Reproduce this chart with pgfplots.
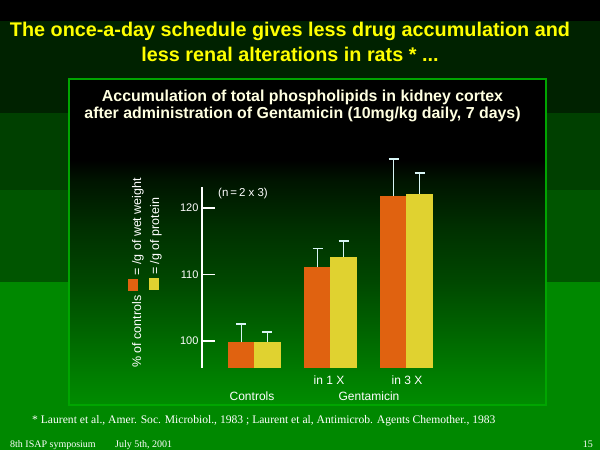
\documentclass[border=0pt]{standalone}
\usepackage{pgfplots}
\pgfplotsset{compat=1.18}
\usepackage{fontspec}
\setmainfont{Liberation Sans}
\newfontfamily\serif{Liberation Serif}

\definecolor{band1}{RGB}{0,34,0}
\definecolor{band2}{RGB}{0,64,0}
\definecolor{band3}{RGB}{0,85,0}
\definecolor{band4}{RGB}{0,136,0}
\definecolor{panelborder}{RGB}{0,165,0}
\definecolor{orangebar}{RGB}{224,98,16}
\definecolor{yellowbar}{RGB}{224,210,48}
\definecolor{errcol}{RGB}{215,245,245}
\definecolor{slideyellow}{RGB}{255,255,0}
\definecolor{titlewhite}{RGB}{255,255,225}

% panel background: green at the bottom fading to black near the top
\pgfdeclareverticalshading{panel}{100bp}{%
  rgb(0bp)=(0,0.55,0); rgb(25bp)=(0,0.55,0); rgb(30.4bp)=(0,0.48,0);
  rgb(36.5bp)=(0,0.39,0); rgb(44bp)=(0,0.28,0); rgb(52bp)=(0,0.19,0);
  rgb(59.5bp)=(0,0.08,0); rgb(62.5bp)=(0,0,0); rgb(100bp)=(0,0,0)}

\begin{document}
\begin{tikzpicture}
\path[use as bounding box] (0,0) rectangle (600pt,450pt);
\fill[black] (0,0) rectangle (600pt,450pt);
\fill[band1] (0,337pt) rectangle (600pt,429pt);
\fill[band2] (0,260pt) rectangle (600pt,337pt);
\fill[band3] (0,168pt) rectangle (600pt,260pt);
\fill[band4] (0,0) rectangle (600pt,168pt);
\shade[shading=panel] (69pt,45pt) rectangle (546pt,371pt);
\draw[panelborder, line width=2.2pt] (69pt,45pt) rectangle (546pt,371pt);

% slide title
\node[anchor=base, text=slideyellow, font=\fontsize{19.8}{24}\selectfont\bfseries, inner sep=0pt]
  at (290pt,413pt) {The once-a-day schedule gives less drug accumulation and};
\node[anchor=base, text=slideyellow, font=\fontsize{19.8}{24}\selectfont\bfseries, inner sep=0pt]
  at (290pt,388pt) {less renal alterations in rats * ...};

% chart title
\node[anchor=base, text=titlewhite, font=\fontsize{15.9}{18}\selectfont\bfseries, inner sep=0pt]
  at (302.5pt,348.5pt) {Accumulation of total phospholipids in kidney cortex};
\node[anchor=base, text=titlewhite, font=\fontsize{15.9}{18}\selectfont\bfseries, inner sep=0pt]
  at (302.5pt,331pt) {after administration of Gentamicin (10mg/kg daily, 7 days)};

\begin{axis}[
  at={(202pt,82pt)}, anchor=south west,
  scale only axis, width=238pt, height=213.2pt,
  xmin=-0.69, xmax=2.44, ymin=95.94, ymax=128,
  axis x line=none, axis y line*=left,
  y axis line style={white, line width=1.6pt, shorten >=32.2pt},
  ytick={100,110,120},
  tick align=inside,
  major tick length=13pt,
  tick style={white, line width=1.6pt},
  /pgf/number format/assume math mode=true,
  yticklabel style={text=white, font=\fontsize{11}{13}\selectfont},
  ybar=0pt, bar width=26pt,
]
\addplot[fill=orangebar, draw=orangebar, line width=0.1pt,
  error bars/.cd, y dir=plus, y explicit, error mark=|,
  error bar style={draw=errcol, line width=1.8pt},
  error mark options={draw=errcol, line width=1.8pt, mark size=5pt}]
  coordinates {(0,99.8) +- (0,2.8) (1,111.1) +- (0,2.8) (2,121.8) +- (0,5.6)};
\addplot[fill=yellowbar, draw=yellowbar, line width=0.1pt,
  error bars/.cd, y dir=plus, y explicit, error mark=|,
  error bar style={draw=errcol, line width=1.8pt},
  error mark options={draw=errcol, line width=1.8pt, mark size=5pt}]
  coordinates {(0,99.8) +- (0,1.5) (1,112.6) +- (0,2.4) (2,122.1) +- (0,3.2)};
\end{axis}

% y label, two columns with colour keys
\node[rotate=90, anchor=base west, text=white, inner sep=0pt, font=\fontsize{12.5}{14}\selectfont]
  at (141pt,82pt) {\% of controls\hspace{5pt}\raisebox{3pt}{\textcolor{orangebar}{\rule{12pt}{10pt}}}\hspace{3pt}= /g of wet weight};
\node[rotate=90, anchor=base west, text=white, inner sep=0pt, font=\fontsize{12.5}{14}\selectfont]
  at (159pt,160pt) {\textcolor{yellowbar}{\rule{12pt}{10pt}}\hspace{3pt}= /g of protein};

\node[text=white, font=\fontsize{11.5}{13}\selectfont, inner sep=0pt] at (243pt,256pt) {(n\,=\,2 x 3)};
\node[text=white, font=\fontsize{12}{14}\selectfont, inner sep=0pt] at (329pt,70pt) {in 1 X};
\node[text=white, font=\fontsize{12}{14}\selectfont, inner sep=0pt] at (407pt,70pt) {in 3 X};
\node[text=white, font=\fontsize{12}{14}\selectfont, inner sep=0pt] at (252pt,54pt) {Controls};
\node[text=white, font=\fontsize{12}{14}\selectfont, inner sep=0pt] at (369pt,54pt) {Gentamicin};

% footnotes
\node[anchor=base west, text=white, inner sep=0pt, font=\serif\fontsize{11.6}{13}\selectfont]
  at (32pt,27pt) {* Laurent et al., Amer. Soc. Microbiol., 1983 ; Laurent et al, Antimicrob. Agents Chemother., 1983};
\node[anchor=base west, text=white, inner sep=0pt, font=\serif\fontsize{10}{11}\selectfont]
  at (10pt,2.5pt) {8th ISAP symposium};
\node[anchor=base west, text=white, inner sep=0pt, font=\serif\fontsize{10}{11}\selectfont]
  at (115pt,2.5pt) {July 5th, 2001};
\node[anchor=base east, text=white, inner sep=0pt, font=\serif\fontsize{10}{11}\selectfont]
  at (593pt,2.5pt) {15};
\end{tikzpicture}
\end{document}
